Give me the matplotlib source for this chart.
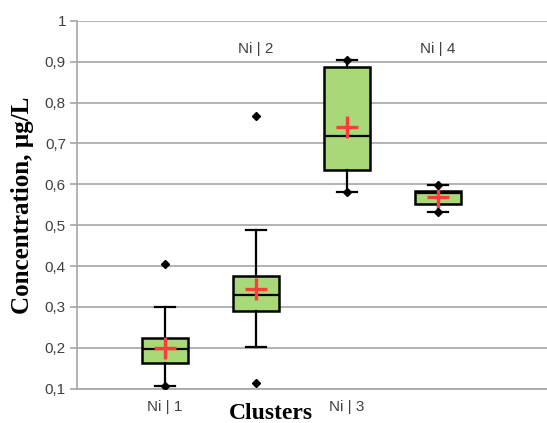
import matplotlib
matplotlib.use("Agg")
import matplotlib.pyplot as plt

clusters = ["Ni | 1", "Ni | 2", "Ni | 3", "Ni | 4"]
q1 = [0.162, 0.291, 0.635, 0.553]
medians = [0.197, 0.330, 0.718, 0.579]
q3 = [0.223, 0.376, 0.888, 0.584]
whisk_lo = [0.1065, 0.203, 0.582, 0.532]
whisk_hi = [0.300, 0.488, 0.905, 0.598]
means = [0.200, 0.343, 0.739, 0.570]
mins = [0.1065, 0.113, 0.582, 0.532]
maxs = [0.406, 0.768, 0.905, 0.598]
label_y = [0.055, 0.93, 0.055, 0.93]
yticks = [0.1, 0.2, 0.3, 0.4, 0.5, 0.6, 0.7, 0.8, 0.9, 1.0]

fig = plt.figure(figsize=(5.47, 4.23), dpi=100)
ax = fig.add_axes([0.1408, 0.081, 0.8592, 0.870])

positions = [1, 2, 3, 4]
stats = []
for i in range(4):
    stats.append(dict(med=medians[i], q1=q1[i], q3=q3[i], whislo=whisk_lo[i],
                      whishi=whisk_hi[i], mean=means[i], fliers=[]))

ax.bxp(stats, positions=positions, widths=0.5, capwidths=0.22, patch_artist=True,
       showmeans=True, showfliers=False, manage_ticks=False,
       boxprops=dict(facecolor="#a8d878", edgecolor="black", linewidth=1.8),
       medianprops=dict(color="black", linewidth=1.6),
       whiskerprops=dict(color="black", linewidth=1.6),
       capprops=dict(color="black", linewidth=1.6),
       meanprops=dict(marker="+", markeredgecolor="#ff3b3b", markersize=16,
                      markeredgewidth=2.4), zorder=3)

ax.plot(positions, mins, "D", color="black", markersize=4, zorder=4, linestyle="none")
ax.plot(positions, maxs, "D", color="black", markersize=4, zorder=4, linestyle="none")

for i, lab in enumerate(clusters):
    ax.text(positions[i], label_y[i], lab, ha="center", va="center", fontsize=11,
            color="#404040", family="Liberation Sans", clip_on=False)

ax.set_xlim(0.033, 5.198)
ax.set_ylim(0.1, 1.0)
ax.set_yticks(yticks)
ax.set_yticklabels([("%g" % v).replace(".", ",") for v in yticks],
                   fontsize=11, color="#404040", family="Liberation Sans")
ax.set_xticks([])
ax.yaxis.grid(True, color="#a6a6a6", linewidth=1.2)
ax.set_axisbelow(True)
for s in ["top", "right"]:
    ax.spines[s].set_visible(False)
for s in ["left", "bottom"]:
    ax.spines[s].set_color("#a6a6a6")
    ax.spines[s].set_linewidth(1.2)
ax.tick_params(axis="y", length=5, color="#a6a6a6", width=1.2, pad=3)

fig.text(0.496, 0.022, "Clusters", ha="center", va="center", fontsize=17,
         fontweight="bold", family="Liberation Serif")
fig.text(0.042, 0.515, "Concentration, µg/L", ha="center", va="center", fontsize=18,
         fontweight="bold", family="Liberation Serif", rotation=90)

fig.savefig("out.png", dpi=100)
